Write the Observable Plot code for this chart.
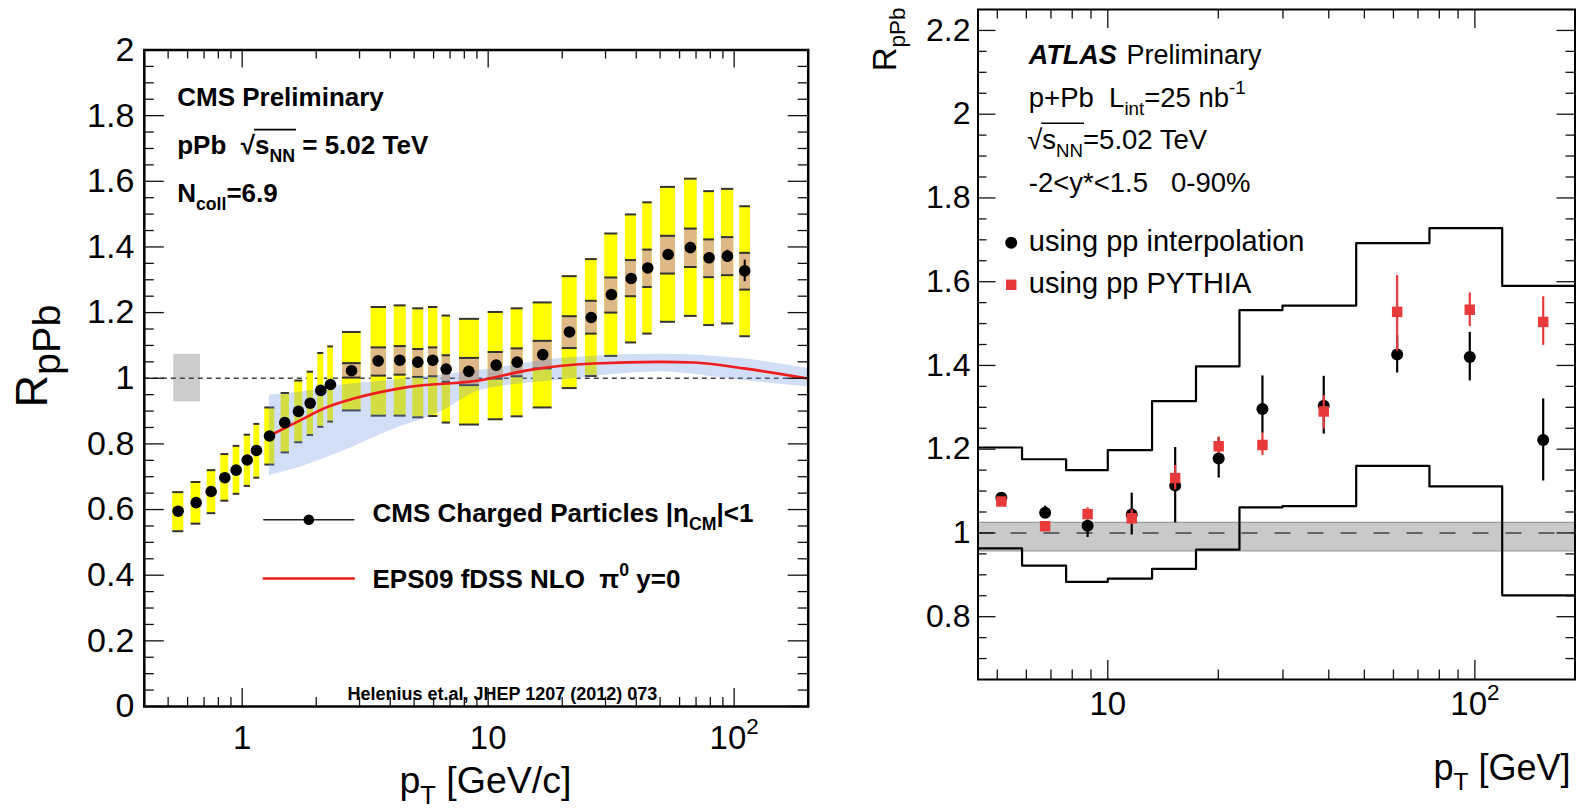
<!DOCTYPE html>
<html><head><meta charset="utf-8">
<script src="https://cdn.jsdelivr.net/npm/d3@7"></script>
<script src="https://cdn.jsdelivr.net/npm/@observablehq/plot@0.6"></script>
<style>
html,body{margin:0;padding:0;background:#fff;overflow:hidden;}
#wrap{position:relative;width:1576px;height:808px;color:#000;}
#wrap svg{position:absolute;left:0;top:0;max-width:none;}
svg text{white-space:pre;}
</style></head><body><div id="wrap"></div>
<script>
// ---------------- CMS panel data (left) ----------------
const cmsPt     = [0.549,0.650,0.748,0.850,0.945,1.048,1.143,1.291,1.490,1.694,1.890,2.087,2.285,2.782,3.571,4.372,5.174,5.954,6.750,8.340,10.78,13.12,16.67,21.41,26.23,31.70,38.14,44.55,53.90,66.40,79.10,93.90,110.4];
const cmsVal    = [0.595,0.621,0.655,0.697,0.720,0.751,0.780,0.824,0.865,0.899,0.924,0.963,0.981,1.023,1.053,1.055,1.049,1.055,1.028,1.021,1.040,1.049,1.072,1.141,1.185,1.255,1.304,1.336,1.377,1.398,1.367,1.372,1.327];
const cmsSysLo  = [0.534,0.557,0.589,0.627,0.648,0.672,0.697,0.737,0.774,0.805,0.827,0.852,0.868,0.902,0.886,0.886,0.881,0.885,0.865,0.859,0.875,0.884,0.911,0.970,1.007,1.068,1.109,1.136,1.172,1.190,1.162,1.167,1.128];
const cmsSysHi  = [0.653,0.684,0.720,0.769,0.794,0.828,0.861,0.911,0.955,0.993,1.020,1.077,1.097,1.141,1.217,1.222,1.213,1.217,1.191,1.181,1.202,1.213,1.231,1.311,1.363,1.441,1.499,1.536,1.583,1.608,1.570,1.577,1.524];
const cmsNormLo = [null,null,null,null,null,null,null,null,null,null,null,null,null,1.002,1.008,1.011,1.004,1.006,0.989,0.979,0.999,1.006,1.030,1.092,1.136,1.200,1.250,1.278,1.319,1.339,1.308,1.314,1.270];
const cmsNormHi = [null,null,null,null,null,null,null,null,null,null,null,null,null,1.046,1.094,1.098,1.089,1.094,1.070,1.062,1.080,1.091,1.114,1.189,1.236,1.307,1.360,1.392,1.434,1.456,1.423,1.430,1.382];
const cmsBinLo  = [0.522,0.620,0.721,0.819,0.919,1.019,1.115,1.236,1.440,1.636,1.837,2.029,2.228,2.557,3.345,4.149,4.937,5.718,6.502,7.645,10.00,12.40,15.24,20.00,24.86,29.79,36.15,42.51,50.17,62.81,75.22,88.80,105.4];
const cmsBinHi  = [0.579,0.679,0.781,0.882,0.978,1.081,1.179,1.357,1.557,1.763,1.949,2.146,2.350,3.045,3.861,4.642,5.472,6.240,7.026,9.218,11.51,13.88,18.20,23.00,27.74,33.64,40.08,46.42,57.73,70.73,83.17,99.63,116.5];
const cmsStat   = [0.004,0.004,0.004,0.004,0.004,0.004,0.004,0.004,0.004,0.004,0.004,0.004,0.004,0.005,0.005,0.005,0.005,0.005,0.005,0.005,0.006,0.006,0.007,0.008,0.009,0.010,0.012,0.012,0.015,0.016,0.016,0.018,0.033];
const normBoxPt  = [0.527, 0.677];
const normBoxVal = [0.928, 1.073];
// EPS09 fDSS NLO curve and its uncertainty band
const epsPt   = [1.34,1.673,2.146,2.842,4.686,9.305,14.40,26.88,50.17,68.5,109.4,200];
const epsVal  = [0.831,0.867,0.908,0.938,0.973,0.994,1.024,1.045,1.050,1.048,1.030,0.999];
const bandPt  = [1.29,1.73,2.51,4.01,6.40,9.30,19.6,50.2,106,200];
const bandLo  = [0.704,0.730,0.775,0.841,0.897,0.963,0.994,1.019,0.994,0.974];
const bandHi  = [0.948,0.958,0.979,0.994,1.009,1.024,1.060,1.073,1.060,1.030];
// left tick labels
const leftYMajor = [0,0.2,0.4,0.6,0.8,1,1.2,1.4,1.6,1.8,2];
const leftXMajor = [1,10,100];
const leftXMinor = [0.5,0.6,0.7,0.8,0.9,2,3,4,5,6,7,8,9,20,30,40,50,60,70,80,90,200];

// ---------------- ATLAS panel data (right) ----------------
const atlasPt   = [5.13,6.75,8.81,11.62,15.26,20.05,26.38,38.75,61.42,96.85,153.5];
const interpVal = [1.084,1.048,1.017,1.044,1.113,1.178,1.296,1.304,1.426,1.420,1.222];
const interpLo  = [1.076,1.037,0.989,0.995,1.024,1.131,1.238,1.236,1.382,1.363,1.124];
const interpHi  = [1.092,1.064,1.031,1.095,1.204,1.228,1.375,1.374,1.471,1.479,1.320];
const pythiaVal = [1.075,1.016,1.045,1.035,1.131,1.207,1.210,1.290,1.528,1.533,1.504];
const pythiaLo  = [1.069,1.010,1.035,1.020,1.103,1.190,1.185,1.248,1.434,1.493,1.448];
const pythiaHi  = [1.081,1.022,1.060,1.055,1.161,1.229,1.238,1.328,1.615,1.573,1.564];
const atlasEdges = [4.43,5.84,7.70,10.0,13.2,17.39,22.84,29.91,47.5,75.2,118.7,187.4];
const sysUpper   = [1.204,1.176,1.150,1.198,1.315,1.398,1.532,1.543,1.692,1.728,1.590];
const sysLower   = [0.963,0.922,0.883,0.891,0.914,0.960,1.061,1.064,1.160,1.111,0.851];
const lumiBand   = [0.957, 1.025];
const rightYMajor = [0.8,1,1.2,1.4,1.6,1.8,2,2.2];
const rightXMajor = [10,100];
const rightXMinor = [5,6,7,8,9,20,30,40,50,60,70,80,90];

// ---------------- helpers ----------------
const NS = "http://www.w3.org/2000/svg";
const FONT = "'Liberation Sans', Arial, Helvetica, sans-serif";
const W = 1576, H = 808;
const LF = {fx: 143.8, fy: 49.5, fr: 807.7, fb: 706};
const RF = {fx: 977.5, fy: 9, fr: 1574.5, fb: 679};
const fmtNum = d => String(+(+d).toFixed(1));
const minorY = (a, b, step, majors) => d3.range(Math.round(a/step), Math.round(b/step) + 1).map(k => +(k*step).toFixed(3)).filter(v => !majors.some(m => Math.abs(m - v) < 1e-6));

function txt(P, str, X, base, fs, o = {}) {
  return Plot.text([str], {text: d => d, frameAnchor: "top-left", lineAnchor: "middle", dx: X - P.fx, dy: base - 0.32*fs - P.fy,
    fontSize: fs, textAnchor: o.anchor || "start", fontWeight: o.weight || "normal", fontStyle: o.style || "normal", fill: "black"});
}
function vtxt(P, str, baseX, Y, fs, anchor) {
  return Plot.text([str], {text: d => d, frameAnchor: "top-left", lineAnchor: "middle", dx: baseX - 0.32*fs - P.fx, dy: Y - P.fy,
    rotate: -90, fontSize: fs, textAnchor: anchor, fill: "black"});
}
function ticks(P, xMaj, xMin, yMaj, yMin, lx, sx, ly, sy) {
  const Wf = P.fr - P.fx, Hf = P.fb - P.fy;
  const st = {stroke: "#111", strokeWidth: 1.3};
  return [
    Plot.tickY(yMaj, {y: d => d, insetRight: Wf - ly, ...st}),
    Plot.tickY(yMaj, {y: d => d, insetLeft: Wf - ly, ...st}),
    Plot.tickY(yMin, {y: d => d, insetRight: Wf - sy, ...st}),
    Plot.tickY(yMin, {y: d => d, insetLeft: Wf - sy, ...st}),
    Plot.tickX(xMaj, {x: d => d, insetTop: Hf - lx, ...st}),
    Plot.tickX(xMaj, {x: d => d, insetBottom: Hf - lx, ...st}),
    Plot.tickX(xMin, {x: d => d, insetTop: Hf - sx, ...st}),
    Plot.tickX(xMin, {x: d => d, insetBottom: Hf - sx, ...st})
  ];
}
function legLine(P, X, Y, len, stroke, sw) {
  return Plot.vector([0], {frameAnchor: "top-left", dx: X - P.fx, dy: Y - P.fy, length: len, rotate: 90,
    anchor: "start", shape: "spike", r: 0, stroke, strokeWidth: sw});
}
function legDot(P, X, Y, r, fill, symbol) {
  return Plot.dot([0], {frameAnchor: "top-left", dx: X - P.fx, dy: Y - P.fy, r, fill, symbol: symbol || "circle"});
}
// turn _{..} ^{..} ~{..} (overlined) ~_{..} (overlined subscript) into tspans
function richify(svg, subScale = {}) {
  svg.querySelectorAll("text").forEach(t => {
    const s = t.textContent;
    if (!/(~_|[_^~])\{/.test(s)) return;
    const fs = parseFloat(getComputedStyle(t).fontSize);
    const k = subScale[s] || 0.68;
    const re = /(~_|[_^~])\{([^}]*)\}/g;
    const segs = []; let last = 0, m;
    while ((m = re.exec(s))) {
      if (m.index > last) segs.push([s.slice(last, m.index), ""]);
      segs.push([m[2], m[1]]);
      last = re.lastIndex;
    }
    if (last < s.length) segs.push([s.slice(last), ""]);
    while (t.firstChild) t.removeChild(t.firstChild);
    let cur = 0, idx = 0; const bars = [];
    for (const [str, mode] of segs) {
      const sub = mode.endsWith("_"), sup = mode === "^";
      const off = sub ? 0.3*fs : sup ? -0.45*fs : 0;
      const ts = document.createElementNS(NS, "tspan");
      ts.textContent = str;
      if (sub || sup) ts.setAttribute("font-size", (k*fs).toFixed(2));
      if (off !== cur) ts.setAttribute("dy", (off - cur).toFixed(2));
      cur = off;
      t.appendChild(ts);
      if (mode.startsWith("~")) bars.push([idx, idx + str.length - 1]);
      idx += str.length;
    }
    if (bars.length) {
      const a = bars[0][0], b = bars[bars.length - 1][1];
      const x1 = a > 0 ? t.getEndPositionOfChar(a - 1).x - 1 : t.getStartPositionOfChar(a).x;
      const x2 = t.getEndPositionOfChar(b).x + 1;
      const yb = t.getStartPositionOfChar(0).y - 0.93*fs;
      const ln = document.createElementNS(NS, "line");
      ln.setAttribute("x1", x1); ln.setAttribute("x2", x2);
      ln.setAttribute("y1", yb); ln.setAttribute("y2", yb);
      ln.setAttribute("stroke", "black"); ln.setAttribute("stroke-width", fs > 26.5 ? 1.3 : 1.8);
      if (t.getAttribute("transform")) ln.setAttribute("transform", t.getAttribute("transform"));
      t.parentNode.appendChild(ln);
    }
  });
}

// ---------------- left panel (CMS) ----------------
const cms = cmsPt.map((pt, i) => ({pt, v: cmsVal[i], lo: cmsSysLo[i], hi: cmsSysHi[i], nlo: cmsNormLo[i], nhi: cmsNormHi[i], b0: cmsBinLo[i], b1: cmsBinHi[i], st: cmsStat[i]}));
const cmsN = cms.filter(d => d.nlo != null);
const eps = epsPt.map((pt, i) => ({pt, v: epsVal[i]}));
const band = bandPt.map((pt, i) => ({pt, lo: bandLo[i], hi: bandHi[i]}));
const normBox = [{x1: normBoxPt[0], x2: normBoxPt[1], y1: normBoxVal[0], y2: normBoxVal[1]}];

const left = Plot.plot({
  width: W, height: H,
  marginLeft: LF.fx, marginRight: W - LF.fr, marginTop: LF.fy, marginBottom: H - LF.fb,
  x: {type: "log", domain: [0.4, 200]},
  y: {domain: [0, 2]},
  style: {fontFamily: FONT, background: "white", overflow: "visible", color: "black"},
  marks: [
    Plot.rect(normBox, {x1: "x1", x2: "x2", y1: "y1", y2: "y2", fill: "#cccccc"}),
    Plot.ruleY([1], {stroke: "#444", strokeWidth: 1.3, strokeDasharray: "5,4"}),
    Plot.rect(cms, {x1: "b0", x2: "b1", y1: "lo", y2: "hi", fill: "#ffff00"}),
    Plot.ruleY(cms, {y: "hi", x1: "b0", x2: "b1", stroke: "#333", strokeWidth: 2}),
    Plot.ruleY(cms, {y: "lo", x1: "b0", x2: "b1", stroke: "#333", strokeWidth: 2}),
    Plot.rect(cmsN, {x1: "b0", x2: "b1", y1: "nlo", y2: "nhi", fill: "#deb887"}),
    Plot.ruleY(cmsN, {y: "nhi", x1: "b0", x2: "b1", stroke: "#333", strokeWidth: 2}),
    Plot.ruleY(cmsN, {y: "nlo", x1: "b0", x2: "b1", stroke: "#333", strokeWidth: 2}),
    Plot.areaY(band, {x: "pt", y1: "lo", y2: "hi", fill: "#6b8fe0", fillOpacity: 0.3, curve: "monotone-x", clip: true}),
    Plot.line(eps, {x: "pt", y: "v", stroke: "#ee1c1c", strokeWidth: 2.6, curve: "monotone-x", clip: true}),
    Plot.ruleX(cms, {x: "pt", y1: d => d.v - d.st, y2: d => d.v + d.st, stroke: "black", strokeWidth: 2}),
    Plot.dot(cms, {x: "pt", y: "v", r: 5.8, fill: "black"}),
    ...ticks(LF, leftXMajor, leftXMinor, leftYMajor, minorY(0, 2, 0.05, leftYMajor), 18, 9, 20, 10),
    Plot.frame({stroke: "black", strokeWidth: 2.5}),
    Plot.axisY(leftYMajor, {anchor: "left", tickSize: 0, tickPadding: 10, fontSize: 34, tickFormat: fmtNum, label: null}),
    Plot.axisX(leftXMajor, {anchor: "bottom", tickSize: 0, tickPadding: 19, fontSize: 33, tickFormat: d => d === 100 ? "10^{2}" : String(d), label: null}),
    txt(LF, "p_{T} [GeV/c]", 399, 792, 37.5),
    vtxt(LF, "R_{pPb}", 46, 407, 45, "start"),
    txt(LF, "CMS Preliminary", 176.7, 105, 26, {weight: "bold"}),
    txt(LF, "pPb  √~{s}~_{NN} = 5.02 TeV", 176.7, 153.3, 26, {weight: "bold"}),
    txt(LF, "N_{coll}=6.9", 176.7, 201.7, 26, {weight: "bold"}),
    legLine(LF, 263.3, 519.3, 90, "#222", 1.5),
    legDot(LF, 308.3, 519.3, 5.3, "black"),
    txt(LF, "CMS Charged Particles |η_{CM}|<1", 372, 521.7, 26, {weight: "bold"}),
    legLine(LF, 263.3, 578, 90, "#ee1c1c", 2.6),
    txt(LF, "EPS09 fDSS NLO  π^{0} y=0", 372, 587, 26, {weight: "bold"}),
    txt(LF, "Helenius et.al, JHEP 1207 (2012) 073", 347, 699, 18, {weight: "bold"})
  ]
});

// ---------------- right panel (ATLAS) ----------------
const atlas = atlasPt.map((pt, i) => ({pt, iv: interpVal[i], il: interpLo[i], ih: interpHi[i], pv: pythiaVal[i], pl: pythiaLo[i], ph: pythiaHi[i]}));
const stepU = atlasEdges.map((x, i) => ({x, y: sysUpper[Math.min(i, sysUpper.length - 1)]}));
const stepL = atlasEdges.map((x, i) => ({x, y: sysLower[Math.min(i, sysLower.length - 1)]}));
const RED = "#e83a3a";

const right = Plot.plot({
  width: W, height: H,
  marginLeft: RF.fx, marginRight: W - RF.fr, marginTop: RF.fy, marginBottom: H - RF.fb,
  x: {type: "log", domain: [4.43, 187.4]},
  y: {domain: [0.65, 2.25]},
  style: {fontFamily: FONT, background: "transparent", overflow: "visible", color: "black"},
  marks: [
    Plot.rect([lumiBand], {y1: d => d[0], y2: d => d[1], fill: "#c9c9c9"}),
    Plot.ruleY(lumiBand, {stroke: "#9a9a9a", strokeWidth: 1.2}),
    Plot.ruleY([1], {stroke: "#444", strokeWidth: 1.4, strokeDasharray: "16,17"}),
    Plot.line(stepU, {x: "x", y: "y", curve: "step-after", stroke: "black", strokeWidth: 2.2, clip: true}),
    Plot.line(stepL, {x: "x", y: "y", curve: "step-after", stroke: "black", strokeWidth: 2.2, clip: true}),
    Plot.ruleX(atlas, {x: "pt", y1: "il", y2: "ih", stroke: "black", strokeWidth: 2.2}),
    Plot.dot(atlas, {x: "pt", y: "iv", r: 6, fill: "black"}),
    Plot.ruleX(atlas, {x: "pt", y1: "pl", y2: "ph", stroke: RED, strokeWidth: 2.2}),
    Plot.dot(atlas, {x: "pt", y: "pv", r: 5.9, symbol: "square", fill: RED}),
    ...ticks(RF, rightXMajor, rightXMinor, rightYMajor, minorY(0.7, 2.2, 0.05, rightYMajor), 19, 9.5, 18, 9),
    Plot.frame({stroke: "black", strokeWidth: 2}),
    Plot.axisY(rightYMajor, {anchor: "left", tickSize: 0, tickPadding: 7.5, fontSize: 32, tickFormat: fmtNum, label: null}),
    Plot.axisX(rightXMajor, {anchor: "bottom", tickSize: 0, tickPadding: 12, fontSize: 33, tickFormat: d => d === 100 ? "10^{2}" : String(d), label: null}),
    txt(RF, "p_{T} [GeV]", 1570, 779, 36, {anchor: "end"}),
    vtxt(RF, "R_{pPb}", 895, 7, 33, "end"),
    txt(RF, "ATLAS", 1028.3, 63.3, 27, {weight: "bold", style: "italic"}),
    txt(RF, "Preliminary", 1126, 63.3, 27),
    txt(RF, "p+Pb  L_{int}=25 nb^{-1}", 1028.3, 106, 27.5),
    txt(RF, "√~{s}~_{NN}=5.02 TeV", 1026.7, 148.3, 27.5),
    txt(RF, "-2<y*<1.5   0-90%", 1028.3, 191.7, 27.5),
    legDot(RF, 1010.7, 242.3, 6, "black"),
    txt(RF, "using pp interpolation", 1028.3, 250, 29),
    legDot(RF, 1010.7, 284.3, 5.9, RED, "square"),
    txt(RF, "using pp PYTHIA", 1028.3, 292.7, 29)
  ]
});

const wrap = document.getElementById("wrap");
wrap.appendChild(left);
wrap.appendChild(right);
richify(left, {"R_{pPb}": 0.88});
richify(right);
</script></body></html>
